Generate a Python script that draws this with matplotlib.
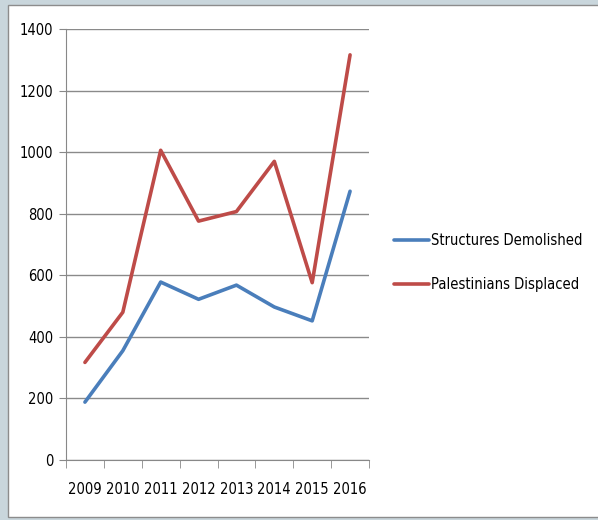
import matplotlib.pyplot as plt
from matplotlib.patches import Rectangle
import numpy as np

years = ["2009", "2010", "2011", "2012", "2013", "2014", "2015", "2016"]
demolished = [188, 355, 578, 522, 568, 497, 452, 873]
displaced = [317, 480, 1006, 776, 807, 970, 576, 1316]
yticks = [0, 200, 400, 600, 800, 1000, 1200, 1400]

plt.rcParams['font.family'] = ['Liberation Sans Narrow', 'DejaVu Sans']
plt.rcParams['font.stretch'] = 'condensed'

fig = plt.figure(figsize=(5.98, 5.20), dpi=100)
fig.patch.set_facecolor('#c9d6dc')
# white chart panel over the background
fig.patches.append(Rectangle((8 / 598, 3 / 520), 1.0, 512 / 520, transform=fig.transFigure,
                             facecolor='white', edgecolor='#8c8c8c', linewidth=1.0, zorder=-5))

ax = fig.add_axes([66 / 598, 60 / 520, 303 / 598, 431 / 520])
ax.set_facecolor('none')

x = np.arange(len(years))
ax.plot(x, demolished, color='#4A7EBB', linewidth=2.6, solid_capstyle='round',
        label='Structures Demolished')
ax.plot(x, displaced, color='#BE4B48', linewidth=2.6, solid_capstyle='round',
        label='Palestinians Displaced')

ax.set_xlim(-0.5, len(years) - 0.5)
ax.set_ylim(0, 1400)
ax.set_yticks(yticks)
ax.set_yticklabels([str(v) for v in yticks], fontsize=10.5)
ax.set_xticks(x)
ax.set_xticklabels(years, fontsize=10.5)
ax.set_xticks(np.arange(-0.5, len(years)), minor=True)
ax.tick_params(axis='x', which='major', length=0, pad=16)
ax.tick_params(axis='x', which='minor', length=6, color='#888888', direction='out')
ax.tick_params(axis='y', length=5, color='#888888', direction='out', pad=4)
ax.yaxis.grid(True, color='#8a8a8a', linewidth=1.0)
ax.set_axisbelow(True)
for s in ['top', 'right']:
    ax.spines[s].set_visible(False)
for s in ['left', 'bottom']:
    ax.spines[s].set_color('#888888')

fig.legend(loc='upper left', bbox_to_anchor=(381 / 598, 1 - 220 / 520), frameon=False,
           fontsize=10.5, handlelength=2.4, handletextpad=0.15, labelspacing=2.0)

fig.savefig('out.png', dpi=100)
